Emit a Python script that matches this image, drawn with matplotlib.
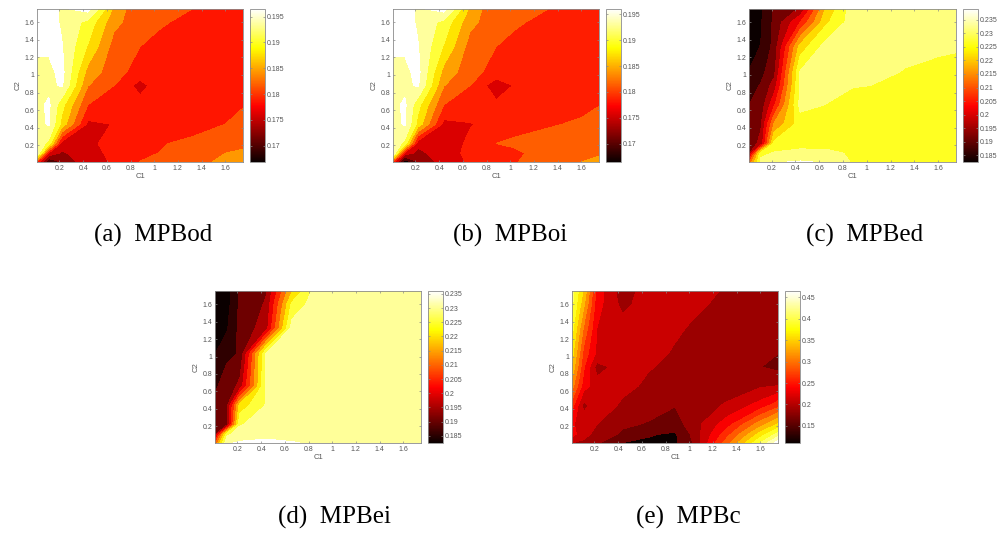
import numpy as np
import matplotlib
matplotlib.use("Agg")
import matplotlib.pyplot as plt
from matplotlib.cm import ScalarMappable
from matplotlib.colors import Normalize

C1 = [0.01, 0.11, 0.22, 0.44, 0.66, 0.88, 1.03, 1.32, 1.6, 1.75]
C2 = [0.01, 0.11, 0.22, 0.44, 0.66, 0.88, 1.03, 1.32, 1.6, 1.75]

MPBod = [
 [.180, .1685, .1725, .1768, .1782, .1809, .1812, .1825, .1845, .1852],
 [.196, .1775, .1745, .177, .1785, .1797, .1808, .1825, .1837, .1842],
 [.1945, .1915, .1765, .1772, .179, .1798, .1805, .1815, .182, .183],
 [.194, .1957, .1885, .1772, .178, .179, .1795, .1795, .1808, .1818],
 [.1945, .1958, .1905, .1808, .179, .179, .1792, .1795, .1798, .1806],
 [.1945, .1945, .1957, .1838, .1808, .1768, .1792, .179, .1795, .1795],
 [.1945, .1945, .1962, .1855, .182, .1795, .1792, .179, .179, .1795],
 [.1958, .1958, .1955, .1892, .1825, .1808, .1795, .1785, .178, .1785],
 [.197, .197, .1948, .1915, .1845, .182, .1815, .1795, .178, .178],
 [.197, .197, .1948, .1965, .186, .181, .1809, .1808, .1795, .1785],
]
MPBoi = [
 [.180, .1665, .172, .1765, .1782, .1795, .1805, .1828, .1837, .1845],
 [.196, .1768, .174, .1768, .1785, .1795, .18, .1825, .183, .1833],
 [.1945, .1915, .176, .177, .1782, .1808, .1814, .182, .1822, .1825],
 [.194, .1957, .1885, .177, .1778, .1785, .1795, .1805, .1812, .182],
 [.1945, .1958, .1905, .1808, .179, .1785, .179, .1795, .18, .1807],
 [.1945, .1945, .1957, .1838, .1808, .1762, .178, .179, .1795, .1795],
 [.1945, .1945, .1962, .1855, .182, .1795, .1792, .179, .179, .1795],
 [.1958, .1958, .1955, .1892, .1825, .1808, .1795, .1785, .178, .1785],
 [.197, .197, .1948, .1915, .1845, .182, .1815, .1795, .178, .178],
 [.197, .197, .1948, .1965, .186, .181, .1809, .1808, .1795, .1785],
]
MPBed = [
 [.21, .2315, .2345, .2355, .2345, .2295, .228, .228, .228, .228],
 [.193, .2285, .2305, .2312, .231, .2295, .228, .228, .228, .228],
 [.193, .196, .2265, .2285, .2285, .2285, .2285, .2285, .2285, .2285],
 [.191, .1945, .2155, .2275, .2285, .2285, .2285, .2285, .2285, .2285],
 [.19, .192, .204, .2315, .2299, .2285, .2285, .2285, .2285, .2285],
 [.187, .1905, .197, .2305, .2315, .2302, .23, .2292, .2285, .2282],
 [.1852, .1885, .1935, .2305, .2315, .2315, .231, .2298, .2292, .229],
 [.183, .1852, .1915, .222, .2325, .2315, .2315, .231, .2305, .2303],
 [.181, .1845, .191, .205, .224, .2325, .2318, .2315, .231, .2308],
 [.18, .1843, .1905, .1955, .221, .2325, .2318, .2315, .2312, .231],
]
MPBei = [
 [.21, .2345, .2355, .2358, .2352, .2345, .234, .234, .234, .234],
 [.193, .2285, .233, .234, .234, .234, .234, .234, .234, .234],
 [.193, .1935, .2295, .233, .233, .233, .233, .233, .233, .233],
 [.191, .1935, .222, .2303, .233, .233, .233, .233, .233, .233],
 [.1895, .1915, .1965, .2305, .233, .233, .233, .233, .233, .233],
 [.1865, .1905, .193, .2305, .233, .233, .233, .233, .233, .233],
 [.1849, .1885, .1905, .2305, .233, .233, .233, .233, .233, .233],
 [.183, .1845, .1915, .1975, .2325, .2335, .233, .233, .233, .233],
 [.181, .183, .191, .1955, .226, .2335, .233, .233, .233, .233],
 [.18, .1825, .1905, .1945, .2195, .2335, .233, .233, .233, .233],
]
MPBc = [
 [.20, .195, .178, .149, .146, .145, .175, .29, .40, .465],
 [.235, .208, .192, .17, .152, .1465, .18, .265, .36, .41],
 [.228, .214, .20, .179, .1725, .163, .187, .24, .315, .355],
 [.26, .192, .217, .195, .185, .176, .187, .203, .235, .265],
 [.31, .236, .21, .207, .195, .19, .189, .188, .197, .201],
 [.345, .253, .19, .212, .2015, .195, .192, .185, .1755, .168],
 [.36, .265, .22, .212, .208, .197, .193, .187, .179, .175],
 [.385, .295, .225, .212, .212, .204, .197, .19, .184, .18],
 [.405, .33, .235, .192, .215, .213, .205, .194, .188, .185],
 [.41, .345, .24, .185, .215, .214, .21, .197, .19, .187],
]
LEVELS_OD = [.1692, .1721, .175, .1779, .1808, .1837, .1866, .1895, .1924, .1953]
LEVELS_OI = LEVELS_OD
LEVELS_E = [.185, .19, .195, .20, .205, .21, .215, .22, .225, .23, .235]
LEVELS_C = [.15, .175, .20, .225, .25, .275, .30, .325, .35, .375, .40, .425, .45]
RANGE_OD = (.1668, .1965)
RANGE_OI = (.1665, .1960)
RANGE_ED = (.1825, .2390)
RANGE_EI = (.1825, .2360)
RANGE_C = (.110, .465)
TICKS_OD = [.17, .175, .18, .185, .19, .195]
TICKS_E = [.185, .19, .195, .2, .205, .21, .215, .22, .225, .23, .235]
TICKS_C = [.15, .2, .25, .3, .35, .4, .45]
AXIS_TICKS = [.2, .4, .6, .8, 1, 1.2, 1.4, 1.6]
NAMES = ["(a)  MPBod", "(b)  MPBoi", "(c)  MPBed", "(d)  MPBei", "(e)  MPBc"]

W, H = 997, 533
GREY = "#8a8a8a"
TXT = "#555555"
plt.rcParams["font.family"] = ["Liberation Sans", "DejaVu Sans"]
fig = plt.figure(figsize=(W/100, H/100), dpi=100, facecolor="white")

def box(x0, x1, y0, y1):
    return [x0/W, 1-y1/H, (x1-x0)/W, (y1-y0)/H]

def fmt(v):
    return f"{v:g}"

panels = [
 (MPBod, LEVELS_OD, RANGE_OD, TICKS_OD, (37, 243, 9, 162), (250, 265), (153, 235), .0008),
 (MPBoi, LEVELS_OI, RANGE_OI, TICKS_OD, (393, 599, 9, 162), (606, 621), (510, 235), .0008),
 (MPBed, LEVELS_E, RANGE_ED, TICKS_E, (749, 956, 9, 162), (963, 978), (865, 235), .001),
 (MPBei, LEVELS_E, RANGE_EI, TICKS_E, (215, 421, 291, 443), (428, 443), (334, 517), .002),
 (MPBc, LEVELS_C, RANGE_C, TICKS_C, (572, 778, 291, 443), (785, 800), (688, 517), 0),
]
for (Z, lev, rng, cticks, (x0, x1, y0, y1), (c0, c1), (tx, ty), shift), name in zip(panels, NAMES):
    ax = fig.add_axes(box(x0, x1, y0, y1))
    norm = Normalize(*rng)
    fill_norm = Normalize(rng[0] + shift, rng[1] + shift)
    ax.contourf(C1, C2, np.array(Z), levels=lev, cmap="hot", norm=fill_norm, extend="both", antialiased=False)
    ax.set_xlim(.01, 1.75); ax.set_ylim(.01, 1.75)
    ax.set_xticks(AXIS_TICKS, [fmt(v) for v in AXIS_TICKS])
    ax.set_yticks(AXIS_TICKS, [fmt(v) for v in AXIS_TICKS])
    ax.tick_params(direction="in", length=1.5, width=.5, top=True, right=True, labelsize=5,
                   labelcolor=TXT, color=GREY, pad=2)
    ax.set_xlabel("C1", fontsize=5.5, color=TXT, labelpad=1)
    ax.set_ylabel("C2", fontsize=5.5, color=TXT, labelpad=2)
    for s in ax.spines.values():
        s.set_color(GREY); s.set_linewidth(.6)
    cax = fig.add_axes(box(c0, c1, y0, y1))
    cb = fig.colorbar(ScalarMappable(norm=norm, cmap="hot"), cax=cax)
    cb.set_ticks(cticks, labels=[fmt(v) for v in cticks])
    cax.tick_params(direction="in", length=1.5, width=.5, labelsize=5, labelcolor=TXT, color=GREY, pad=1.5, left=True)
    cb.outline.set_edgecolor(GREY); cb.outline.set_linewidth(.6)
    fig.text(tx/W, 1-ty/H, name, family="Liberation Serif", fontsize=18, color="black", ha="center", va="center")

fig.savefig("out.png", dpi=100, facecolor="white")
